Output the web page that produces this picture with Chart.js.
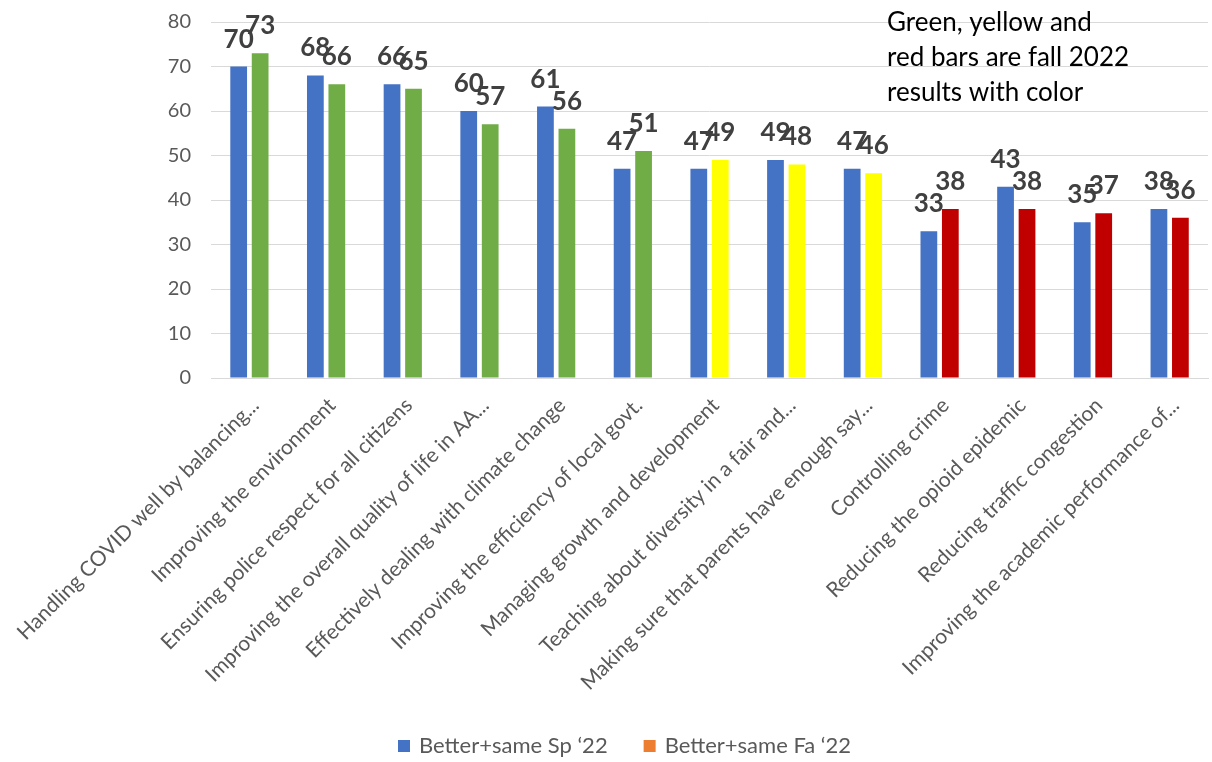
<!DOCTYPE html>
<html>
<head>
<meta charset="utf-8">
<script src="https://cdn.jsdelivr.net/npm/chart.js@4.4.1/dist/chart.umd.min.js"></script>
<style>
  html, body { margin: 0; padding: 0; background: #ffffff; }
  #wrap { width: 1212px; height: 762px; position: relative; }
</style>
</head>
<body>
<div id="wrap"><canvas id="chart"></canvas></div>
<script>
// Survey items, spring vs fall 2022 ("better + same" share, %)
const categories = [
    "Handling COVID well by balancing...",
    "Improving the environment",
    "Ensuring police respect for all citizens",
    "Improving the overall quality of life in AA...",
    "Effectively dealing with climate change",
    "Improving the efficiency of local govt.",
    "Managing growth and development",
    "Teaching about diversity in a fair and...",
    "Making sure that parents have enough say...",
    "Controlling crime",
    "Reducing the opioid epidemic",
    "Reducing traffic congestion",
    "Improving the academic performance of..."
];
const spring22 = [70, 68, 66, 60, 61, 47, 47, 49, 47, 33, 43, 35, 38];
const fall22   = [73, 66, 65, 57, 56, 51, 49, 48, 46, 38, 38, 37, 36];
// fall bars are coloured by rating band
const fallBand = ["green", "green", "green", "green", "green", "green",
                  "yellow", "yellow", "yellow",
                  "red", "red", "red", "red"];
const seriesNames = ["Better+same Sp \u201822", "Better+same Fa \u201822"];
const yTicks = [0, 10, 20, 30, 40, 50, 60, 70, 80];
const noteLines = ["Green, yellow and", "red bars are fall 2022", "results with color"];

const BLUE = "#4472C4";
const ORANGE = "#ED7D31";
const BAND_COLORS = { green: "#70AD47", yellow: "#FFFF00", red: "#C00000" };
const LEGEND_COLORS = [BLUE, ORANGE];
const FONT = "Lato, 'Liberation Sans', sans-serif";

// value labels over each bar
const valueLabels = {
    id: "valueLabels",
    afterDatasetsDraw(chart) {
        const ctx = chart.ctx;
        ctx.save();
        ctx.font = "bold 26px " + FONT;
        ctx.fillStyle = "#404040";
        ctx.textAlign = "center";
        ctx.textBaseline = "alphabetic";
        chart.data.datasets.forEach((ds, di) => {
            chart.getDatasetMeta(di).data.forEach((bar, i) => {
                ctx.fillText(String(ds.data[i]), bar.x, bar.y - 19);
            });
        });
        ctx.restore();
    }
};

// free-text note in the upper right
const note = {
    id: "note",
    afterDraw(chart) {
        const ctx = chart.ctx;
        ctx.save();
        ctx.font = "26px " + FONT;
        ctx.fillStyle = "#000000";
        ctx.textAlign = "left";
        ctx.textBaseline = "middle";
        noteLines.forEach((line, i) => ctx.fillText(line, 887, 23 + i * 35));
        ctx.restore();
    }
};

// legend row at the bottom (series swatches, wider gap than the built-in one)
const bottomLegend = {
    id: "bottomLegend",
    afterDraw(chart) {
        const ctx = chart.ctx;
        ctx.save();
        ctx.font = "22px " + FONT;
        ctx.textBaseline = "middle";
        ctx.textAlign = "left";
        const y = 746;
        let x = 398;
        seriesNames.forEach((name, i) => {
            ctx.fillStyle = LEGEND_COLORS[i];
            ctx.fillRect(x, y - 6, 12, 12);
            ctx.fillStyle = "#595959";
            ctx.fillText(name, x + 21, y);
            x += 21 + ctx.measureText(name).width + 36;
        });
        ctx.restore();
    }
};

new Chart(document.getElementById("chart"), {
    type: "bar",
    data: {
        labels: categories,
        datasets: [
            { label: seriesNames[0], data: spring22, backgroundColor: BLUE },
            {
                label: seriesNames[1],
                data: fall22,
                backgroundColor: fallBand.map((b) => BAND_COLORS[b]),
            },
        ],
    },
    options: {
        responsive: true,
        maintainAspectRatio: false,
        animation: false,
        categoryPercentage: 0.56,
        barPercentage: 0.78,
        layout: { padding: { top: 22, right: 4, left: 0, bottom: 51 } },
        scales: {
            x: {
                grid: { display: false },
                border: { display: true, color: "#d9d9d9", width: 1 },
                ticks: {
                    color: "#595959",
                    font: { family: FONT, size: 21 },
                    minRotation: 45,
                    maxRotation: 45,
                    autoSkip: false,
                    padding: 7,
                    labelOffset: 6,
                },
                afterFit: (axis) => { axis.height = 333; },
            },
            y: {
                min: 0,
                max: 80,
                afterBuildTicks: (axis) => {
                    axis.ticks = yTicks.map((v) => ({ value: v }));
                },
                grid: { color: "#d9d9d9", lineWidth: 1, drawTicks: false },
                border: { display: false },
                ticks: {
                    color: "#595959",
                    font: { family: FONT, size: 20 },
                    padding: 20,
                },
                afterFit: (axis) => {
                    axis.width = 208;
                    axis.paddingTop = 0;
                    axis.paddingBottom = 0;
                },
            },
        },
        plugins: {
            legend: { display: false },
            tooltip: { enabled: false },
        },
    },
    plugins: [valueLabels, note, bottomLegend],
});
</script>
</body>
</html>
